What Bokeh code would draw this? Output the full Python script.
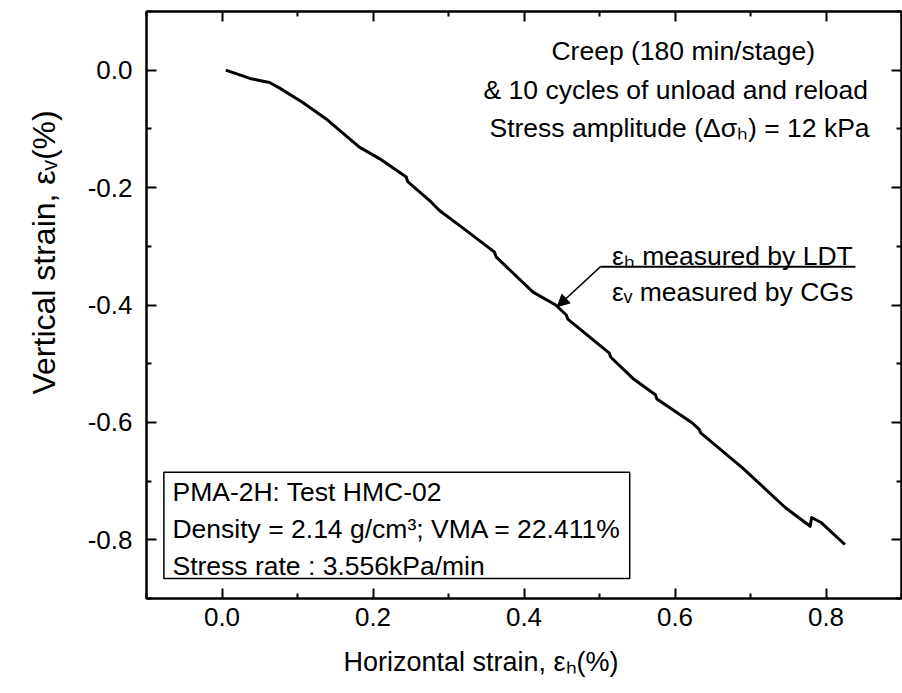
import math
from bokeh.plotting import figure
from bokeh.models import (LinearAxis, FixedTicker, PrintfTickFormatter, Label, Title,
                          BoxAnnotation, Arrow, NormalHead, ColumnDataSource,
                          CustomJSTickFormatter)
from bokeh.embed import file_html
from bokeh.resources import INLINE

# ---- data ----
strain_h = [0.005, 0.037, 0.048, 0.063, 0.077, 0.107, 0.138, 0.169, 0.182, 0.209,
            0.244, 0.246, 0.275, 0.288, 0.314, 0.361, 0.363, 0.412, 0.442, 0.456,
            0.458, 0.513, 0.515, 0.546, 0.574, 0.576, 0.623, 0.632, 0.634, 0.689,
            0.746, 0.779, 0.781, 0.794, 0.825]
strain_v = [0.000, -0.014, -0.017, -0.021, -0.031, -0.055, -0.083, -0.117, -0.131, -0.151,
            -0.182, -0.190, -0.222, -0.239, -0.264, -0.310, -0.318, -0.378, -0.400, -0.417,
            -0.424, -0.482, -0.489, -0.527, -0.553, -0.560, -0.601, -0.612, -0.618, -0.677,
            -0.745, -0.777, -0.762, -0.771, -0.808]

x_major = [0.0, 0.2, 0.4, 0.6, 0.8]
x_minor = [-0.1, 0.1, 0.3, 0.5, 0.7, 0.9]
y_major = [0.0, -0.2, -0.4, -0.6, -0.8]
y_minor = [0.1, -0.1, -0.3, -0.5, -0.7, -0.9]

x_title = "Horizontal strain, \u03b5\u2095(%)"
y_title = "Vertical strain, \u03b5\u1d65(%)"
note_lines = ["Creep (180 min/stage)",
              "& 10 cycles of unload and reload",
              "Stress amplitude (\u0394\u03c3\u2095) = 12 kPa"]
leader_top = "\u03b5\u2095 measured by LDT"
leader_bottom = "\u03b5\u1d65 measured by CGs"
box_lines = ["PMA-2H: Test HMC-02",
             "Density = 2.14 g/cm\u00b3; VMA = 22.411%",
             "Stress rate : 3.556kPa/min"]

FONT = "Liberation Sans"
TXT = "26.5px"

p = figure(width=902, height=693, x_range=(-0.1, 0.9), y_range=(-0.9, 0.1),
           output_backend="svg", toolbar_location=None,
           min_border_left=146, min_border_right=1, min_border_top=11,
           min_border_bottom=94, x_axis_location=None, y_axis_location=None)
p.grid.visible = False
p.outline_line_color = "black"
p.outline_line_width = 2
p.background_fill_color = "white"
p.border_fill_color = "white"


def make_axis(ticks, minor, show_labels):
    ax = LinearAxis(ticker=FixedTicker(ticks=ticks, minor_ticks=minor))
    ax.major_tick_in = 10
    ax.major_tick_out = 0
    ax.minor_tick_in = 5
    ax.minor_tick_out = 0
    ax.major_tick_line_width = 2
    ax.minor_tick_line_width = 2
    ax.axis_line_width = 2
    ax.axis_line_color = "black"
    ax.major_tick_line_color = "black"
    ax.minor_tick_line_color = "black"
    if show_labels:
        ax.formatter = PrintfTickFormatter(format="%.1f")
        ax.major_label_text_font = FONT
        ax.major_label_text_font_size = "26px"
        ax.major_label_text_color = "black"
    else:
        ax.formatter = CustomJSTickFormatter(code="return ''")
        ax.major_label_standoff = 0
    return ax


bottom = make_axis(x_major, x_minor, True)
bottom.major_label_standoff = 9
left = make_axis(y_major, y_minor, True)
left.major_label_standoff = 14
top = make_axis(x_major, x_minor, False)
right = make_axis(y_major, y_minor, False)
p.add_layout(bottom, "below")
p.add_layout(left, "left")
p.add_layout(top, "above")
p.add_layout(right, "right")

src = ColumnDataSource(dict(x=strain_h, y=strain_v))
p.line("x", "y", source=src, line_color="black", line_width=3, line_join="round")

# axis titles
p.add_layout(Title(text=x_title, text_font=FONT, text_font_size="27px",
                   text_font_style="normal", align="left", offset=197,
                   standoff=33, text_color="black"), "below")
p.add_layout(Title(text=y_title, text_font=FONT, text_font_size="32px",
                   text_font_style="normal", align="left", offset=204,
                   standoff=45, text_color="black"), "left")

# notes at top right
note_x = [0.611, 0.601, 0.606]
note_y = [0.0328, -0.0335, -0.0981]
for t, xx, yy in zip(note_lines, note_x, note_y):
    p.add_layout(Label(x=xx, y=yy, text=t, text_font=FONT, text_font_size=TXT,
                       text_align="center", text_baseline="middle", text_color="black"))

# leader annotation
p.add_layout(Label(x=0.5165, y=-0.3158, text=leader_top, text_font=FONT, text_font_size=TXT,
                   text_align="left", text_baseline="middle", text_color="black"))
p.add_layout(Label(x=0.5165, y=-0.3787, text=leader_bottom, text_font=FONT, text_font_size=TXT,
                   text_align="left", text_baseline="middle", text_color="black"))
p.add_layout(Arrow(end=None, x_start=0.501, y_start=-0.335, x_end=0.839, y_end=-0.335,
                   line_color="black", line_width=2))
p.add_layout(Arrow(end=NormalHead(size=12, fill_color="black", line_color="black"),
                   x_start=0.501, y_start=-0.335, x_end=0.444, y_end=-0.403,
                   line_color="black", line_width=1.5))

# info box
p.add_layout(BoxAnnotation(left=-0.077, right=0.540, top=-0.685, bottom=-0.866,
                           fill_color=None, line_color="black", line_alpha=1.0,
                           line_width=1.5))
box_y = [-0.7189, -0.7810, -0.8439]
for t, yy in zip(box_lines, box_y):
    p.add_layout(Label(x=-0.0656, y=yy, text=t, text_font=FONT, text_font_size=TXT,
                       text_align="left", text_baseline="middle", text_color="black"))

open("out.html", "w").write(file_html(p, INLINE))
